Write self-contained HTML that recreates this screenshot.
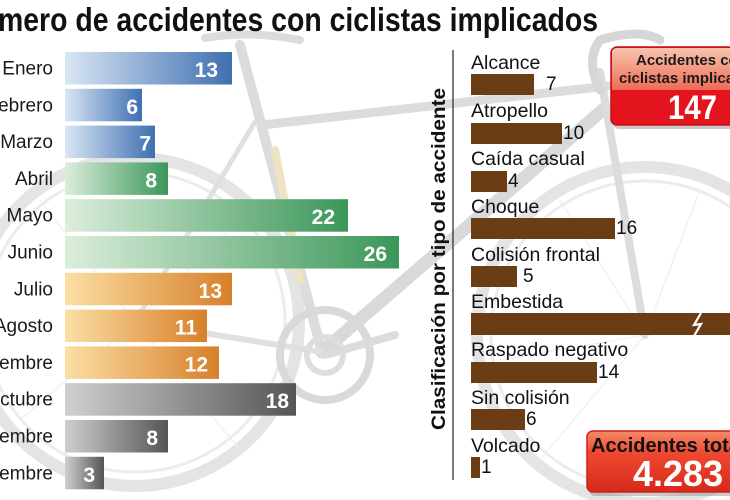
<!DOCTYPE html>
<html>
<head>
<meta charset="utf-8">
<style>
  html,body{margin:0;padding:0;background:#fff;}
  body{width:730px;height:500px;overflow:hidden;}
  svg{display:block;font-family:"Liberation Sans",sans-serif;}
</style>
</head>
<body>
<svg width="730" height="500" viewBox="0 0 730 500" xmlns="http://www.w3.org/2000/svg">
  <defs>
    <linearGradient id="gBlue" x1="0" y1="0" x2="1" y2="0">
      <stop offset="0" stop-color="#d9e6f4"/>
      <stop offset="1" stop-color="#3f6fb1"/>
    </linearGradient>
    <linearGradient id="gGreen" x1="0" y1="0" x2="1" y2="0">
      <stop offset="0" stop-color="#dbeedb"/>
      <stop offset="1" stop-color="#3b9659"/>
    </linearGradient>
    <linearGradient id="gOrange" x1="0" y1="0" x2="1" y2="0">
      <stop offset="0" stop-color="#fbdfa4"/>
      <stop offset="1" stop-color="#d7802a"/>
    </linearGradient>
    <linearGradient id="gGray" x1="0" y1="0" x2="1" y2="0">
      <stop offset="0" stop-color="#cfcfcf"/>
      <stop offset="1" stop-color="#555555"/>
    </linearGradient>
    <linearGradient id="gHead" x1="0" y1="0" x2="0" y2="1">
      <stop offset="0" stop-color="#f8c4ad"/>
      <stop offset="1" stop-color="#ef6b55"/>
    </linearGradient>
    <linearGradient id="gBot" x1="0" y1="0" x2="0" y2="1">
      <stop offset="0" stop-color="#f58a68"/>
      <stop offset="0.35" stop-color="#ee4a30"/>
      <stop offset="1" stop-color="#d8291b"/>
    </linearGradient>
  </defs>

  <!-- Bicycle background (faint) -->
  <g fill="none" stroke-linecap="round">
    <circle cx="135" cy="322" r="164" stroke="#e4e4e4" stroke-width="12"/>
    <circle cx="135" cy="322" r="150" stroke="#ececec" stroke-width="3"/>
    <circle cx="645" cy="335" r="168" stroke="#e4e4e4" stroke-width="12"/>
    <circle cx="645" cy="335" r="154" stroke="#ececec" stroke-width="3"/>
    <g stroke="#efefef" stroke-width="1.2">
      <line x1="135" y1="322" x2="40" y2="200"/>
      <line x1="135" y1="322" x2="250" y2="210"/>
      <line x1="135" y1="322" x2="20" y2="420"/>
      <line x1="135" y1="322" x2="240" y2="450"/>
      <line x1="645" y1="335" x2="560" y2="200"/>
      <line x1="645" y1="335" x2="500" y2="360"/>
      <line x1="645" y1="335" x2="540" y2="460"/>
      <line x1="645" y1="335" x2="700" y2="190"/>
    </g>
    <line x1="240" y1="45" x2="322" y2="352" stroke="#dcdcdc" stroke-width="10"/>
    <line x1="262" y1="125" x2="608" y2="86" stroke="#dcdcdc" stroke-width="9"/>
    <line x1="322" y1="352" x2="605" y2="108" stroke="#d9d9d9" stroke-width="13"/>
    <line x1="600" y1="72" x2="645" y2="335" stroke="#dcdcdc" stroke-width="8"/>
    <line x1="255" y1="122" x2="135" y2="322" stroke="#e0e0e0" stroke-width="5"/>
    <line x1="322" y1="352" x2="135" y2="322" stroke="#e0e0e0" stroke-width="6"/>
    <line x1="275" y1="150" x2="300" y2="280" stroke="#eee4c4" stroke-width="8"/>
    <path d="M205 38 Q250 30 300 40" stroke="#dcdcdc" stroke-width="8"/>
    <path d="M600 40 Q640 28 660 40 M600 40 Q585 60 600 90" stroke="#d6d6d6" stroke-width="9"/>
    <circle cx="325" cy="355" r="45" stroke="#d9d9d9" stroke-width="8"/>
    <circle cx="325" cy="355" r="18" stroke="#dedede" stroke-width="6"/>
    <line x1="325" y1="355" x2="395" y2="335" stroke="#dcdcdc" stroke-width="8"/>
  </g>

  <!-- Title -->
  <text x="-2" y="31" font-size="33" font-weight="bold" fill="#111" textLength="600" lengthAdjust="spacingAndGlyphs">mero de accidentes con ciclistas implicados</text>

  <!-- Left bars -->
  <g>
    <rect x="65" y="52" width="167" height="32.5" fill="url(#gBlue)"/>
    <rect x="65" y="88.8" width="77" height="32.5" fill="url(#gBlue)"/>
    <rect x="65" y="125.6" width="90" height="32.5" fill="url(#gBlue)"/>
    <rect x="65" y="162.4" width="103" height="32.5" fill="url(#gGreen)"/>
    <rect x="65" y="199.2" width="283" height="32.5" fill="url(#gGreen)"/>
    <rect x="65" y="236" width="334" height="32.5" fill="url(#gGreen)"/>
    <rect x="65" y="272.8" width="167" height="32.5" fill="url(#gOrange)"/>
    <rect x="65" y="309.6" width="142" height="32.5" fill="url(#gOrange)"/>
    <rect x="65" y="346.4" width="154" height="32.5" fill="url(#gOrange)"/>
    <rect x="65" y="383.2" width="231" height="32.5" fill="url(#gGray)"/>
    <rect x="65" y="420" width="103" height="32.5" fill="url(#gGray)"/>
    <rect x="65" y="456.8" width="39" height="32.5" fill="url(#gGray)"/>
  </g>
  <g font-size="21" font-weight="bold" fill="#fff" text-anchor="end">
    <text x="218" y="77">13</text>
    <text x="138" y="113.8">6</text>
    <text x="151" y="150.6">7</text>
    <text x="157" y="187.4">8</text>
    <text x="335" y="224.2">22</text>
    <text x="387" y="261">26</text>
    <text x="222" y="297.8">13</text>
    <text x="197" y="334.6">11</text>
    <text x="208" y="371.4">12</text>
    <text x="289" y="408.2">18</text>
    <text x="158" y="445">8</text>
    <text x="95" y="481.8">3</text>
  </g>
  <g font-size="19" fill="#1a1a1a" text-anchor="end">
    <text x="53" y="74.5">Enero</text>
    <text x="53" y="111.3">Febrero</text>
    <text x="53" y="148.1">Marzo</text>
    <text x="53" y="184.9">Abril</text>
    <text x="53" y="221.7">Mayo</text>
    <text x="53" y="258.5">Junio</text>
    <text x="53" y="295.3">Julio</text>
    <text x="53" y="332.1">Agosto</text>
    <text x="53" y="368.9">Septiembre</text>
    <text x="53" y="405.7">Octubre</text>
    <text x="53" y="442.5">Noviembre</text>
    <text x="53" y="479.3">Diciembre</text>
  </g>

  <!-- Vertical axis title and line -->
  <text transform="translate(445,259) rotate(-90)" text-anchor="middle" font-size="19" font-weight="bold" fill="#111" textLength="342" lengthAdjust="spacingAndGlyphs">Clasificación por tipo de accidente</text>
  <line x1="453" y1="50" x2="453" y2="480" stroke="#333" stroke-width="1.3"/>

  <!-- Right bars -->
  <g fill="#6b3d15">
    <rect x="471" y="74" width="63" height="21"/>
    <rect x="471" y="123" width="91" height="21"/>
    <rect x="471" y="171" width="36" height="21"/>
    <rect x="471" y="218" width="144" height="21"/>
    <rect x="471" y="266" width="46" height="21"/>
    <rect x="471" y="313" width="262" height="22"/>
    <rect x="471" y="362" width="126" height="21"/>
    <rect x="471" y="409" width="54" height="21"/>
    <rect x="471" y="457" width="9" height="21"/>
  </g>
  <polyline points="701,313 694,325 701,324 694,336" fill="none" stroke="#fff" stroke-width="2.2"/>
  <g font-size="19.5" fill="#111">
    <text x="471" y="69">Alcance</text>
    <text x="471" y="117">Atropello</text>
    <text x="471" y="165">Caída casual</text>
    <text x="471" y="213">Choque</text>
    <text x="471" y="261">Colisión frontal</text>
    <text x="471" y="308">Embestida</text>
    <text x="471" y="356">Raspado negativo</text>
    <text x="471" y="404">Sin colisión</text>
    <text x="471" y="452">Volcado</text>
  </g>
  <g font-size="19" fill="#111">
    <text x="546" y="90">7</text>
    <text x="563" y="139">10</text>
    <text x="508" y="187">4</text>
    <text x="616" y="234">16</text>
    <text x="523" y="282">5</text>
    <text x="598" y="378">14</text>
    <text x="526" y="425">6</text>
    <text x="481" y="473">1</text>
  </g>

  <!-- Top red box -->
  <rect x="613" y="50" width="130" height="79" rx="6" fill="#8a8a8a" opacity="0.45"/>
  <rect x="611" y="47" width="130" height="78" rx="6" fill="#e3141e" stroke="#c40f18" stroke-width="1.5"/>
  <path d="M612 90 L612 53 Q612 48 617 48 L740 48 L740 90 Z" fill="url(#gHead)"/>
  <text x="636" y="65" font-size="15" font-weight="bold" fill="#1a1a1a">Accidentes con</text>
  <text x="619" y="83" font-size="15" font-weight="bold" fill="#1a1a1a">ciclistas implicados</text>
  <text x="668" y="119" font-size="34" font-weight="bold" fill="#fff" textLength="49" lengthAdjust="spacingAndGlyphs">147</text>

  <!-- Bottom red box -->
  <rect x="589" y="434" width="150" height="62" rx="6" fill="#8a8a8a" opacity="0.45"/>
  <rect x="587" y="431" width="150" height="61" rx="6" fill="url(#gBot)" stroke="#c8231a" stroke-width="1.5"/>
  <text x="591" y="452" font-size="20" font-weight="bold" fill="#111">Accidentes totales</text>
  <text x="633" y="486" font-size="36" font-weight="bold" fill="#fff">4.283</text>
</svg>
</body>
</html>
